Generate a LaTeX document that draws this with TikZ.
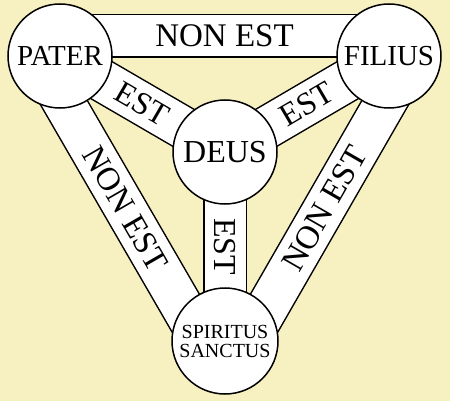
\documentclass[tikz,border=0pt]{standalone}
\usepackage{fontspec}
\setmainfont{Liberation Serif}
\usetikzlibrary{calc,backgrounds}
\definecolor{shieldbg}{RGB}{247,240,193}

\begin{document}
\begin{tikzpicture}[x=1pt,y=-1pt,
  person/.style={circle,draw,line width=1.5pt,fill=white,minimum size=104pt,
    inner sep=0pt,font=\fontsize{29}{29}\selectfont},
  band/.style={draw=black,line width=1.5pt,double=white,double distance=41pt},
  bandtext/.style={font=\fontsize{32}{32}\selectfont,sloped,inner sep=0pt}]
  \node[person] (P) at (60,56) {PATER};
  \node[person] (F) at (389,56) {FILIUS};
  \node[person,font=\fontsize{32}{32}\selectfont] (D) at (225,152) {DEUS};
  \node[person,minimum size=106pt,font=\fontsize{20}{19}\selectfont,
    align=center] (S) at (225,341) {SPIRITUS\\SANCTUS};
  \begin{scope}[on background layer]
    \fill[shieldbg] (0,0) rectangle (450,401);
    \draw[band] ($(P.center)!20pt!90:(F.center)$) -- ($(F.center)!20pt!-90:(P.center)$)
      node[bandtext,midway,font=\fontsize{33}{33}\selectfont] {NON EST};
    \draw[band] ($(P.center)!20pt!-90:(S.center)$) -- ($(S.center)!20pt!90:(P.center)$)
      node[bandtext,midway,font=\fontsize{33}{33}\selectfont] {NON EST};
    \draw[band] ($(S.center)!20pt!-90:(F.center)$) -- ($(F.center)!20pt!90:(S.center)$)
      node[bandtext,midway,font=\fontsize{33}{33}\selectfont] {NON EST};
    \draw[band] (P.center) -- (D.center) node[bandtext,midway] {EST};
    \draw[band] (D.center) -- (F.center) node[bandtext,midway] {EST};
    \draw[band] (D.center) -- (S.center) node[bandtext,midway,rotate=-90,sloped=false] {EST};
  \end{scope}
\end{tikzpicture}
\end{document}
